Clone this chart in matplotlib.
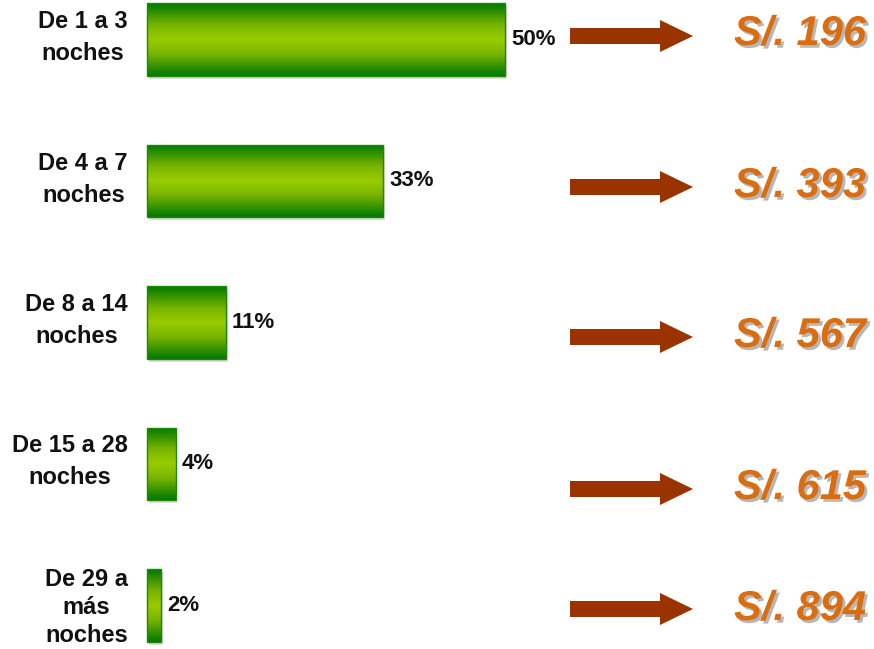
import numpy as np
import matplotlib
matplotlib.use("Agg")
from matplotlib import pyplot as plt
import matplotlib.patches as patches
import matplotlib.patheffects as pe
from matplotlib.colors import LinearSegmentedColormap

categories = ["De 1 a 3\nnoches", "De 4 a 7\nnoches", "De 8 a 14\nnoches",
              "De 15 a 28\nnoches", "De 29 a\nmás\nnoches"]
percents = [50, 33, 11, 4, 2]
prices = [196, 393, 567, 615, 894]

W, H = 874, 649
plt.rcParams['font.family'] = ['Liberation Sans', 'DejaVu Sans']

fig = plt.figure(figsize=(W / 100, H / 100), dpi=100)

# bar axes: x=0 at px 147, 50% at px 505; bar 0 centre at px 39.5, step 141.5
px_per = (505 - 147) / 50.0
step = 141.5
ax = fig.add_axes([0, 0, 1, 1])
ax.set_xlim(-147 / px_per, (W - 147) / px_per)
ax.set_ylim((H - 39.5) / step, -39.5 / step)
ax.axis('off')

green = LinearSegmentedColormap.from_list(
    "g", [(0, "#007800"), (0.3, "#78b400"), (0.5, "#99cc00"),
          (0.7, "#78b400"), (1, "#007800")])
grad = np.linspace(0, 1, 256).reshape(-1, 1)

ypos = np.arange(len(categories))
bars = ax.barh(ypos, percents, height=0.515, color='none', edgecolor='none')
for b, p, lab in zip(bars, percents, categories):
    x0, y0, w, h = b.get_x(), b.get_y(), b.get_width(), b.get_height()
    # soft shadow
    sh = patches.Rectangle((x0 + 0.25, y0 + 0.02), w, h, facecolor='#dcdcdc',
                           edgecolor='none', zorder=1)
    ax.add_patch(sh)
    im = ax.imshow(grad, cmap=green, aspect='auto', extent=(x0, x0 + w, y0 + h, y0),
                   zorder=2, interpolation='bilinear')
    clip = patches.Rectangle((x0, y0), w, h, transform=ax.transData)
    im.set_clip_path(clip)
    ax.add_patch(patches.Rectangle((x0, y0), w, h, facecolor='none',
                                   edgecolor='#1a8a00', linewidth=1.0, zorder=3))
    ax.annotate(f"{p}%", (x0 + w, b.get_y() + h / 2), xytext=(6, 0),
                textcoords='offset pixels', ha='left', va='center',
                fontsize=16, fontweight='bold', color='#111111')
    three = lab.count("\n") > 1
    ax.annotate(lab, (0, b.get_y() + h / 2), xytext=(-19, -2 if three else 2),
                textcoords='offset pixels', ha='right', va='center',
                multialignment='center', linespacing=1.3 if three else 1.5,
                fontsize=17, fontweight='bold', color='#111111')

# overlay in pixel coordinates for arrows and prices
ov = fig.add_axes([0, 0, 1, 1])
ov.set_xlim(0, W)
ov.set_ylim(H, 0)
ov.axis('off')
ov.patch.set_alpha(0)

arrow_y = [36, 187, 337, 489, 609]
price_y = [34, 186, 336, 488, 609]
for ay, py, pr in zip(arrow_y, price_y, prices):
    ov.add_patch(patches.FancyArrow(570, ay, 123, 0, width=16, head_width=32,
                                    head_length=33, length_includes_head=True,
                                    color='#993300', linewidth=0))
    ov.text(866, py, f"S/. {pr}", ha='right', va='center', fontsize=30,
            fontweight='bold', fontstyle='italic', color='#d96d10',
            path_effects=[pe.withSimplePatchShadow(offset=(2, -2),
                                                   shadow_rgbFace='#888888',
                                                   alpha=0.6)])

fig.savefig("out.png", dpi=100)
